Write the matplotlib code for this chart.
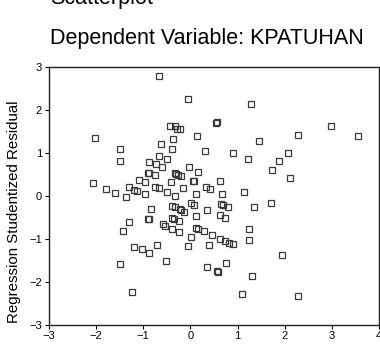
import matplotlib
matplotlib.use("Agg")
from matplotlib import pyplot as plt

# standardized predicted value (x) and studentized residual (y)
pred = [-0.66, -0.06, 1.29, 0.54, 0.56, -0.43, -0.33, -0.29, -0.21, 2.99,
        -2.02, 0.13, 3.55, 2.29, -0.36, 1.46, -0.62, -1.49, -0.38, 0.32,
        0.91, 2.07, -0.66, -1.49, -0.50, 1.22, 1.88, -0.88, -0.74, -0.60,
        -0.03, 1.74, 0.16, -0.90, -0.88, -0.32, -0.31, -0.76, -0.26, -0.19,
        2.12, -1.10, -0.97, -0.42, 0.05, 0.07, 0.63, -2.07, -1.31, -0.76,
        -0.66, -0.16, 0.34, 0.42, -1.80, -1.20, -1.13, -0.50, 1.13, -1.59,
        -0.97, 0.11, 0.68, -1.37, -0.32,
        -0.84, -0.38, -0.32, -0.23, -0.19, -0.13, 0.02, 0.07, 0.35, 0.64,
        0.69, 0.79, 1.34, 1.71, -0.38, -0.34, -0.24, 0.11, 0.63, 0.74,
        -0.89, -0.87, -0.59, -0.53, -1.30, -1.43, -0.38, -0.24, 0.11, 0.16,
        0.28, 0.46, 0.62, 0.74, 0.82, 0.91, 1.25, 1.25, 0.01, -0.71,
        -0.06, 0.40, -1.19, -1.02, -0.88, -1.49, -0.51, 0.75, 0.35, 0.57,
        0.59, 1.30, 1.95, -1.24, 1.10, 2.28]
resid = [2.79, 2.25, 2.14, 1.70, 1.71, 1.63, 1.61, 1.55, 1.55, 1.63,
         1.34, 1.38, 1.38, 1.42, 1.31, 1.27, 1.20, 1.09, 1.09, 1.04,
         0.99, 0.99, 0.93, 0.81, 0.86, 0.86, 0.80, 0.78, 0.73, 0.66,
         0.66, 0.59, 0.55, 0.53, 0.53, 0.52, 0.51, 0.47, 0.48, 0.45,
         0.41, 0.37, 0.32, 0.31, 0.34, 0.34, 0.34, 0.30, 0.21, 0.19,
         0.17, 0.18, 0.21, 0.16, 0.16, 0.13, 0.11, 0.08, 0.08, 0.07,
         0.03, 0.03, 0.03, -0.04, -0.02,
         -0.31, -0.25, -0.27, -0.32, -0.34, -0.38, -0.18, -0.21, -0.34, -0.20,
         -0.22, -0.27, -0.27, -0.17, -0.52, -0.55, -0.59, -0.48, -0.46, -0.51,
         -0.54, -0.54, -0.66, -0.70, -0.62, -0.82, -0.77, -0.85, -0.75, -0.77,
         -0.83, -0.92, -1.00, -1.05, -1.10, -1.13, -0.77, -1.03, -0.97, -1.15,
         -1.18, -1.15, -1.20, -1.25, -1.33, -1.59, -1.52, -1.56, -1.65, -1.75,
         -1.77, -1.86, -1.39, -2.24, -2.29, -2.34]

xticks = [-3, -2, -1, 0, 1, 2, 3, 4]
yticks = [-3, -2, -1, 0, 1, 2, 3]

plt.rcParams['font.family'] = ['Liberation Sans', 'DejaVu Sans']

fig = plt.figure(figsize=(3.8, 3.6), dpi=100)
ax = fig.add_axes([0.129, 0.0986, 0.868, 0.716])

ax.plot(pred, resid, linestyle='none', marker='s', markersize=3.8,
        markerfacecolor='none', markeredgecolor='#3a3a3a', markeredgewidth=0.9)

ax.set_xlim(-3, 4)
ax.set_ylim(-3, 3)
ax.set_xticks(xticks)
ax.set_yticks(yticks)
ax.tick_params(labelsize=8, length=3, width=0.8, direction='out', pad=2)
for s in ax.spines.values():
    s.set_linewidth(1.0)
    s.set_color('#202020')

ax.set_ylabel('Regression Studentized Residual', fontsize=10.8)
ax.yaxis.set_label_coords(-0.085, 0.436)

fig.text(50 / 380, 1 - 4 / 360, 'Scatterplot', fontsize=15.5, va='baseline', ha='left')
fig.text(207 / 380, 1 - 44 / 360, 'Dependent Variable: KPATUHAN', fontsize=15.5,
         va='baseline', ha='center')

fig.savefig('out.png', dpi=100)
